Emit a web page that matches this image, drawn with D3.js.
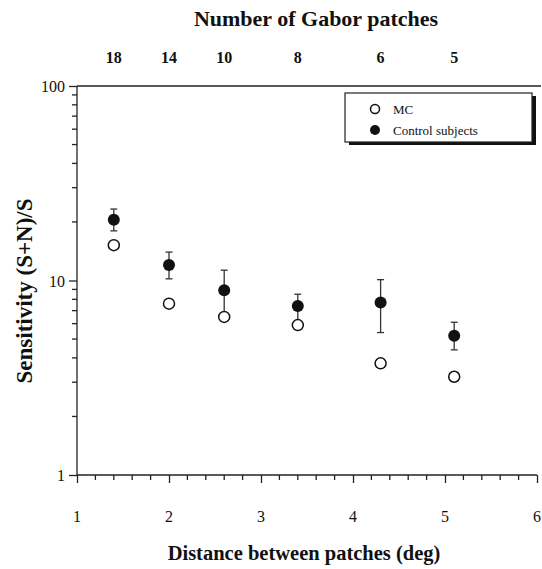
<!DOCTYPE html>
<html lang="en">
<head>
    <meta charset="utf-8"/>
    <style>
        body { margin: 0; background: #fff; }
        svg { display: block; }
        text { font-family: "Liberation Serif", "Times New Roman", serif; fill: #111; }
        .title { font-weight: bold; font-size: 22px; }
        .tick-label { font-size: 16px; }
        .top-label { font-weight: bold; font-size: 16px; }
        .axis line, .axis path { stroke: #222; stroke-width: 1.3px; }
        .legend text { font-size: 13px; }
    </style>
    <script src="https://d3js.org/d3.v7.min.js" charset="utf-8"></script>
</head>
<body>
<svg id="chart" width="542" height="569"></svg>
<script>
    // values
    var distance = [1.4, 2.0, 2.6, 3.4, 4.3, 5.1];
    var patches = [18, 14, 10, 8, 6, 5];
    var mc = [15.2, 7.6, 6.5, 5.9, 3.75, 3.2];
    var control = [20.5, 12.0, 8.9, 7.4, 7.7, 5.2];
    var controlHi = [23.3, 14.0, 11.3, 8.5, 10.1, 6.1];
    var controlLo = [18.0, 10.2, 6.6, 6.0, 5.4, 4.4];
    var xTicks = [1, 2, 3, 4, 5, 6];
    var yTicks = [1, 10, 100];

    var svg = d3.select('#chart');
    var x = d3.scaleLinear().domain([1, 6]).range([77, 537]);
    var y = d3.scaleLog().domain([1, 100]).range([475, 86]);

    // minor ticks
    var yMinor = [];
    [1, 10].forEach(function(d) { for (var i = 2; i < 10; i++) yMinor.push(d * i); });
    var xMinor = d3.range(1, 6.001, 0.2).map(function(d) { return +d.toFixed(1); })
        .filter(function(d) { return xTicks.indexOf(d) < 0; });

    // left axis
    var gy = svg.append('g').attr('class', 'axis').attr('transform', 'translate(' + x(1) + ',0)');
    gy.call(d3.axisLeft(y).tickValues(yTicks).tickSize(8).tickFormat(''));
    gy.select('.domain').attr('d', 'M0,' + y(100) + 'V' + y(1));
    gy.selectAll('.minor').data(yMinor).enter().append('line')
        .attr('x1', -5).attr('x2', 0)
        .attr('y1', function(d) { return y(d); }).attr('y2', function(d) { return y(d); })
        .attr('stroke', '#222').attr('stroke-width', 1.3);
    svg.selectAll('.ylab').data(yTicks).enter().append('text')
        .attr('class', 'tick-label')
        .attr('x', 65).attr('y', function(d) { return y(d) + 6; })
        .attr('text-anchor', 'end')
        .text(function(d) { return d; });

    // bottom axis
    var gx = svg.append('g').attr('class', 'axis').attr('transform', 'translate(0,' + y(1) + ')');
    gx.call(d3.axisBottom(x).tickValues(xTicks).tickSize(8).tickFormat(''));
    gx.select('.domain').attr('d', 'M' + x(1) + ',0H' + x(6));
    gx.selectAll('.minor').data(xMinor).enter().append('line')
        .attr('x1', function(d) { return x(d); }).attr('x2', function(d) { return x(d); })
        .attr('y1', 0).attr('y2', 5)
        .attr('stroke', '#222').attr('stroke-width', 1.3);
    svg.selectAll('.xlab').data(xTicks).enter().append('text')
        .attr('class', 'tick-label')
        .attr('x', function(d) { return x(d); }).attr('y', 522)
        .attr('text-anchor', 'middle')
        .text(function(d) { return d; });

    // top frame line
    svg.append('line')
        .attr('x1', x(1)).attr('x2', 541).attr('y1', y(100)).attr('y2', y(100))
        .attr('stroke', '#222').attr('stroke-width', 1.3);

    // top labels: number of patches
    svg.selectAll('.toplab').data(patches).enter().append('text')
        .attr('class', 'top-label')
        .attr('x', function(d, i) { return x(distance[i]); }).attr('y', 63)
        .attr('text-anchor', 'middle')
        .text(function(d) { return d; });

    svg.append('text').attr('class', 'title')
        .attr('x', 316).attr('y', 26).attr('text-anchor', 'middle')
        .text('Number of Gabor patches');
    svg.append('text').attr('class', 'title')
        .attr('x', 304).attr('y', 560).attr('text-anchor', 'middle')
        .style('font-size', '20.5px')
        .text('Distance between patches (deg)');
    svg.append('text').attr('class', 'title')
        .attr('transform', 'translate(32,' + 291 + ') rotate(-90)')
        .attr('text-anchor', 'middle')
        .style('font-size', '23px')
        .text('Sensitivity (S+N)/S');

    // error bars for control subjects
    var eb = svg.append('g');
    distance.forEach(function(d, i) {
        var cx = x(d);
        eb.append('line').attr('x1', cx).attr('x2', cx)
            .attr('y1', y(controlHi[i])).attr('y2', y(controlLo[i]))
            .attr('stroke', '#333').attr('stroke-width', 1.3);
        [controlHi[i], controlLo[i]].forEach(function(v) {
            eb.append('line').attr('x1', cx - 3.5).attr('x2', cx + 3.5)
                .attr('y1', y(v)).attr('y2', y(v))
                .attr('stroke', '#333').attr('stroke-width', 1.3);
        });
    });

    svg.selectAll('.mc').data(mc).enter().append('circle')
        .attr('cx', function(d, i) { return x(distance[i]); })
        .attr('cy', function(d) { return y(d); })
        .attr('r', 5.5).attr('fill', '#fff').attr('stroke', '#111').attr('stroke-width', 1.5);
    svg.selectAll('.ctrl').data(control).enter().append('circle')
        .attr('cx', function(d, i) { return x(distance[i]); })
        .attr('cy', function(d) { return y(d); })
        .attr('r', 6).attr('fill', '#111');

    // legend
    var lg = svg.append('g').attr('class', 'legend');
    lg.append('rect').attr('x', 349).attr('y', 96).attr('width', 187).attr('height', 49).attr('fill', '#111');
    lg.append('rect').attr('x', 345).attr('y', 93).attr('width', 187).attr('height', 49)
        .attr('fill', '#fff').attr('stroke', '#222').attr('stroke-width', 1.2);
    lg.append('circle').attr('cx', 375).attr('cy', 109).attr('r', 4.5)
        .attr('fill', '#fff').attr('stroke', '#111').attr('stroke-width', 1.5);
    lg.append('circle').attr('cx', 375).attr('cy', 130).attr('r', 5).attr('fill', '#111');
    lg.append('text').attr('x', 393).attr('y', 114).text('MC');
    lg.append('text').attr('x', 393).attr('y', 135).text('Control subjects');
</script>
</body>
</html>
